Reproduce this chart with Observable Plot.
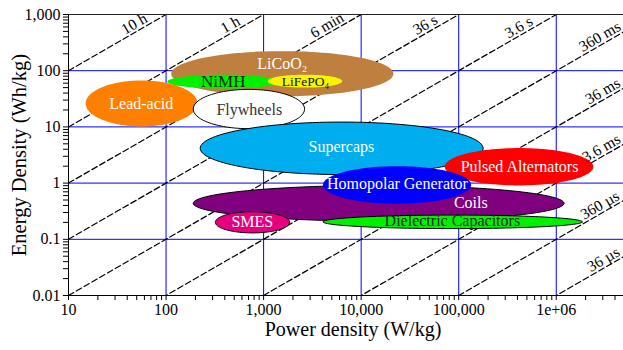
<!DOCTYPE html>
<html><head><meta charset="utf-8">
<script src="https://cdn.jsdelivr.net/npm/d3@7"></script>
<script src="https://cdn.jsdelivr.net/npm/@observablehq/plot@0.6"></script>
<style>body{margin:0;background:#fff} svg{display:block}</style>
</head><body><div id="chart"></div>
<script>
// Technologies (drawing order), ranges
const techNames   = ["LiCoO₂","NiMH","LiFePO₄","Lead-acid","Flywheels","Supercaps","Pulsed Alternators","Coils","Homopolar Generator","SMES","Dielectric Capacitors"];
const powerMin    = [113, 103, 1100, 15, 190, 224, 72000, 190, 4060, 320, 4060];
const powerMax    = [21400, 1480, 6400, 210, 2630, 178000, 2.4e6, 1.2e6, 134000, 1850, 1.85e6];
const energyMin   = [35, 48, 50, 10.2, 9.3, 1.42, 0.91, 0.21, 0.43, 0.13, 0.155];
const energyMax   = [223, 85, 85, 67, 46.5, 12.2, 4.2, 0.91, 2.0, 0.31, 0.27];
const labelPower  = [1556, 386, 2680, 55.7, 713, 6270, 420000, 133000, 23500, 766, 86100];
const labelEnergy = [134.6, 64.4, 64.4, 26.2, 20.5, 4.33, 1.93, 0.437, 0.951, 0.203, 0.209];
const fillColors  = ["#bf7f3f","#00f000","#f5f500","#ff8000","#ffffff","#00aeef","#ff0000","#800080","#0000ff","#e6007e","#00f000"];
const strokeColors= ["none","none","none","none","#000","#000","none","#000","none","#000","#000"];
const labelColors = ["#ffffff","#0d2a0d","#111111","#ffffff","#333333","#ffffff","#ffffff","#ffffff","#ffffff","#ffffff","#1a2a1a"];
const labelSizes  = [16, 17, 13.5, 16, 16, 16, 16, 16, 16, 16, 16];

// Constant discharge-time lines (hours)
const dischargeHours  = [10, 1, 0.1, 0.01, 0.001, 1e-4, 1e-5, 1e-6, 1e-7, 1e-8];
const dischargeLabels = ["10 h","1 h","6 min","36 s","3.6 s","360 ms","36 ms","3.6 ms","360 µs","36 µs"];
const dischargeLabelPower = [47.2, 455, 4470, 45500, 412000, 2.8e6, 3.0e6, 2.9e6, 2.8e6, 3.05e6];

// Axes
const xDomain = [10, 4.89e6];
const yDomain = [0.01, 1000];
const xMajorTicks = [10, 100, 1000, 10000, 100000, 1000000];
const xTickLabels = ["10","100","1,000","10,000","100,000","1e+06"];
const yMajorTicks = [0.01, 0.1, 1, 10, 100, 1000];
const yTickLabels = ["0.01","0.1","1","10","100","1,000"];
const xTitle = "Power density (W/kg)";
const yTitle = "Energy Density (Wh/kg)";

function minorTicks(majors, domain) {
  const out = [];
  for (const m of majors) for (let k = 2; k <= 9; k++) {
    const v = m * k;
    if (v > domain[0] && v < domain[1]) out.push(v);
  }
  return out;
}
const xMinor = minorTicks(xMajorTicks, xDomain);
const yMinor = minorTicks(yMajorTicks, yDomain);

function ellipse(i) {
  const lx0 = Math.log10(powerMin[i]), lx1 = Math.log10(powerMax[i]);
  const ly0 = Math.log10(energyMin[i]), ly1 = Math.log10(energyMax[i]);
  const cx = (lx0 + lx1) / 2, rx = (lx1 - lx0) / 2, cy = (ly0 + ly1) / 2, ry = (ly1 - ly0) / 2;
  return d3.range(0, 360, 3).map(a => {
    const t = a * Math.PI / 180;
    return {P: 10 ** (cx + rx * Math.cos(t)), E: 10 ** (cy + ry * Math.sin(t))};
  });
}

const lineData = dischargeHours.flatMap(t => xDomain.map(P => ({t, P, E: t * P})));
const idx = d3.range(techNames.length);
const didx = d3.range(dischargeHours.length);

const plot = Plot.plot({
  width: 623, height: 350,
  marginLeft: 68, marginRight: 0, marginTop: 14, marginBottom: 55,
  style: {fontFamily: "'Liberation Serif', 'Times New Roman', serif", fontSize: "15px", background: "white", overflow: "visible"},
  x: {type: "log", domain: xDomain, label: null},
  y: {type: "log", domain: yDomain, label: null},
  marks: [
    Plot.ruleX(xMajorTicks.filter(v => v > xDomain[0]), {stroke: "#0000ff", strokeWidth: 1}),
    Plot.ruleY(yMajorTicks.filter(v => v > yDomain[0] && v < yDomain[1]), {stroke: "#0000ff", strokeWidth: 1}),
    Plot.line(lineData, {x: "P", y: "E", z: "t", stroke: "black", strokeWidth: 1.2, strokeDasharray: "6,3", clip: true}),
    ...idx.map(i => Plot.line(ellipse(i), {x: "P", y: "E", fill: fillColors[i], stroke: strokeColors[i], strokeWidth: 1, curve: "linear-closed"})),
    ...idx.map(i => Plot.text([i], {x: () => labelPower[i], y: () => labelEnergy[i], text: () => techNames[i], fill: labelColors[i], fontSize: labelSizes[i]})),
    Plot.text(didx, {x: i => dischargeLabelPower[i], y: i => dischargeHours[i] * dischargeLabelPower[i], text: i => dischargeLabels[i], rotate: -30, dy: -9, fontSize: 15.5, fill: "black"}),
    Plot.ruleY([yDomain[0]], {stroke: "black"}),
    Plot.ruleY([yDomain[1]], {stroke: "#222"}),
    Plot.ruleX([xDomain[0]], {stroke: "black"}),
    Plot.axisX({ticks: xMajorTicks, tickFormat: d => xTickLabels[xMajorTicks.indexOf(d)], tickSize: 5, tickPadding: 3, fontSize: 16, label: null}),
    Plot.axisX({ticks: xMinor, tickFormat: () => "", tickSize: 5, label: null}),
    Plot.axisY({ticks: yMajorTicks, tickFormat: d => yTickLabels[yMajorTicks.indexOf(d)], tickSize: 5, tickPadding: 3, fontSize: 16, label: null}),
    Plot.axisY({ticks: yMinor, tickFormat: () => "", tickSize: 5, label: null}),
    Plot.text([xTitle], {frameAnchor: "bottom", text: d => d, textAnchor: "middle", dy: 40, dx: 7, fontSize: 20, fill: "black"}),
    Plot.text([yTitle], {frameAnchor: "left", text: d => d, textAnchor: "middle", rotate: -90, dx: -49, fontSize: 20.5, fill: "black"})
  ]
});
document.getElementById("chart").appendChild(plot);
</script>
</body></html>
